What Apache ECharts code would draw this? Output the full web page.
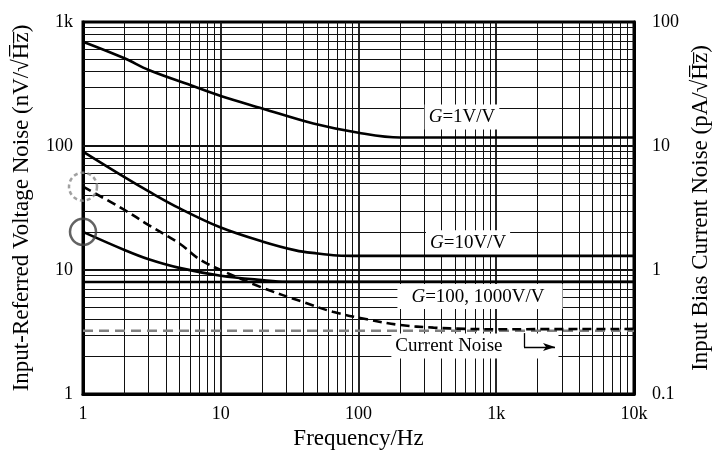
<!DOCTYPE html>
<html>
<head>
<meta charset="utf-8">
<title>Noise</title>
<script src="https://cdn.jsdelivr.net/npm/echarts@6/dist/echarts.min.js"></script>
<style>
  html, body { margin: 0; padding: 0; background: #fff; }
  #main { width: 713px; height: 456px; }
</style>
</head>
<body>
<div id="main"></div>
<script>
// data (Hz, nV/rtHz and pA/rtHz)
var freqTicks = ['1', '10', '100', '1k', '10k'];
var leftTicks = ['1', '10', '100', '1k'];
var rightTicks = ['0.1', '1', '10', '100'];

var g1Freq = [1, 2, 3, 6, 10, 20, 47, 100, 200, 10000];
var g1Noise = [694, 510, 410, 310, 253, 201, 152, 128, 117, 117];

var g10Freq = [1, 2, 3, 5, 10, 20, 35, 50, 70, 100, 10000];
var g10Noise = [90, 56, 43, 31.5, 22, 17.0, 14.4, 13.6, 13.1, 13, 13];

var g100Freq = [1, 2, 3, 5, 10, 20, 30, 10000];
var g100Noise = [20.3, 14.5, 12.2, 10.4, 9.0, 8.3, 8.05, 8.05];

var g1000Freq = [1, 10000];
var g1000Noise = [8, 8];

var curFreq = [1, 2, 3, 5, 7, 10, 20, 40, 65, 115, 200, 350, 600, 1000, 10000];
var curNoise = [4.7, 3.05, 2.3, 1.64, 1.22, 1.0, 0.72, 0.55, 0.46, 0.40, 0.36, 0.343, 0.335, 0.333, 0.335];

var refFreq = [1, 10000];
var refNoise = [0.324, 0.324];

// helpers
function pairs(xs, ys) {
  return xs.map(function (x, i) { return [x, ys[i]]; });
}

var font = 'Liberation Serif';

// log grid lines: 2..9 inside each decade + the majors
var gridLines = [];
for (var d = 0; d < 4; d++) {
  for (var k = 2; k <= 10; k++) {
    var v = k * Math.pow(10, d);
    if (v < 10000) {
      gridLines.push({ xAxis: v, lineStyle: { width: k === 10 ? 1.8 : 1 } });
    }
  }
}
for (var d2 = 0; d2 < 3; d2++) {
  for (var k2 = 2; k2 <= 10; k2++) {
    var w = k2 * Math.pow(10, d2);
    if (w < 1000) {
      gridLines.push({ yAxis: w, lineStyle: { width: k2 === 10 ? 1.8 : 1 } });
    }
  }
}

var chart = echarts.init(document.getElementById('main'));

var curveStyle = { color: '#000', width: 2.6 };

var option = {
  animation: false,
  backgroundColor: '#fff',
  textStyle: { fontFamily: font },
  grid: {
    left: 83, right: 79, top: 22, bottom: 62,
    outerBoundsMode: 'none', containLabel: false,
    show: true, borderColor: '#000', borderWidth: 3
  },
  xAxis: {
    type: 'log', logBase: 10, min: 1, max: 10000,
    name: 'Frequency/Hz', nameLocation: 'middle', nameGap: 33,
    nameTextStyle: { fontFamily: font, fontSize: 23, color: '#000' },
    axisLine: { show: true, lineStyle: { color: '#000', width: 3 } },
    axisTick: { show: false },
    splitLine: { show: false },
    axisLabel: {
      fontFamily: font, fontSize: 18, color: '#000', margin: 11,
      formatter: function (v) { return freqTicks[Math.round(Math.log10(v))]; }
    }
  },
  yAxis: [{
    type: 'log', logBase: 10, min: 1, max: 1000,
    name: 'Input-Referred Voltage Noise (nV/\u221AH\u0305z\u0305)',
    nameLocation: 'middle', nameGap: 50,
    nameTextStyle: { fontFamily: font, fontSize: 23, color: '#000' },
    axisLine: { show: true, lineStyle: { color: '#000', width: 3 } },
    axisTick: { show: false },
    splitLine: { show: false },
    axisLabel: {
      fontFamily: font, fontSize: 18, color: '#000', margin: 10,
      formatter: function (v) { return leftTicks[Math.round(Math.log10(v))]; }
    }
  }, {
    type: 'log', logBase: 10, min: 0.1, max: 100,
    position: 'right',
    name: 'Input Bias Current Noise (pA/\u221AH\u0305z\u0305)',
    nameLocation: 'middle', nameGap: 54, nameRotate: 90,
    nameTextStyle: { fontFamily: font, fontSize: 23, color: '#000' },
    axisLine: { show: true, lineStyle: { color: '#000', width: 3 } },
    axisTick: { show: false },
    splitLine: { show: false },
    axisLabel: {
      fontFamily: font, fontSize: 18, color: '#000', margin: 18,
      formatter: function (v) { return rightTicks[Math.round(Math.log10(v)) + 1]; }
    }
  }],
  series: [
    // grid lines + text boxes
    {
      name: 'grid', type: 'line', data: [[1, 1]], symbol: 'none',
      lineStyle: { width: 0 }, z: 1, silent: true,
      markLine: {
        silent: true, symbol: 'none', z: 1,
        label: { show: false },
        lineStyle: { color: '#111', type: 'solid', width: 1 },
        data: gridLines
      },
      markPoint: {
        silent: true, symbol: 'rect', symbolSize: 0, z: 4,
        label: {
          show: true, position: 'inside', color: '#000',
          fontFamily: font, fontSize: 19, backgroundColor: '#fff',
          padding: [3, 4, 3, 4],
          rich: { i: { fontFamily: font, fontSize: 19, fontStyle: 'italic', color: '#000' } }
        },
        data: [
          { coord: [564, 171], value: 0, label: { formatter: '{i|G}=1V/V' } },
          { coord: [624, 16.6], value: 0, label: { formatter: '{i|G}=10V/V' } },
          { coord: [762, 6.1], value: 0, label: { formatter: '{i|G}=100, 1000V/V', padding: [3, 18, 3, 14] } },
          { coord: [700, 2.44], value: 0, label: { formatter: 'Current Noise', padding: [3, 56, 3, 4] } }
        ]
      }
    },
    { name: 'G=1', type: 'line', data: pairs(g1Freq, g1Noise), symbol: 'none',
      smooth: 0.35, lineStyle: curveStyle, z: 6 },
    { name: 'G=10', type: 'line', data: pairs(g10Freq, g10Noise), symbol: 'none',
      smooth: 0.35, lineStyle: curveStyle, z: 6 },
    { name: 'G=100', type: 'line', data: pairs(g100Freq, g100Noise), symbol: 'none',
      smooth: 0.35, lineStyle: curveStyle, z: 6 },
    { name: 'G=1000', type: 'line', data: pairs(g1000Freq, g1000Noise), symbol: 'none',
      lineStyle: curveStyle, z: 6 },
    { name: 'Current Noise', type: 'line', yAxisIndex: 1, data: pairs(curFreq, curNoise),
      symbol: 'none', smooth: 0.35, z: 6,
      lineStyle: { color: '#000', width: 2.6, type: [9, 5] } },
    { name: 'ref', type: 'line', yAxisIndex: 1, data: pairs(refFreq, refNoise),
      symbol: 'none', z: 5,
      lineStyle: { color: '#808080', width: 2.6, type: [10, 6] },
      // arrow pointing to the right axis
      markLine: {
        silent: true, z: 7, symbol: ['none', 'none'],
        label: { show: false },
        lineStyle: { color: '#000', width: 1.3, type: 'solid' },
        data: [
          [{ coord: [1590, 0.31] }, { coord: [1590, 0.239] }],
          [{ coord: [1590, 0.239], symbol: 'none' },
           { coord: [2670, 0.239], symbol: 'arrow', symbolSize: [6, 12] }]
        ]
      }
    },
    // circles marking the 1 Hz points
    { name: 'circles', type: 'scatter', clip: false, z: 8, silent: true,
      data: [
        { value: [1, 20.3], symbolSize: 26,
          itemStyle: { color: 'rgba(0,0,0,0)', borderColor: '#3c3c3c', borderWidth: 2.5 } },
        { value: [1, 47], symbolSize: 28,
          itemStyle: { color: 'rgba(0,0,0,0)', borderColor: '#8a8a8a', borderWidth: 2.5, borderType: [4, 3] } }
      ]
    }
  ]
};

chart.setOption(option);
</script>
</body>
</html>
